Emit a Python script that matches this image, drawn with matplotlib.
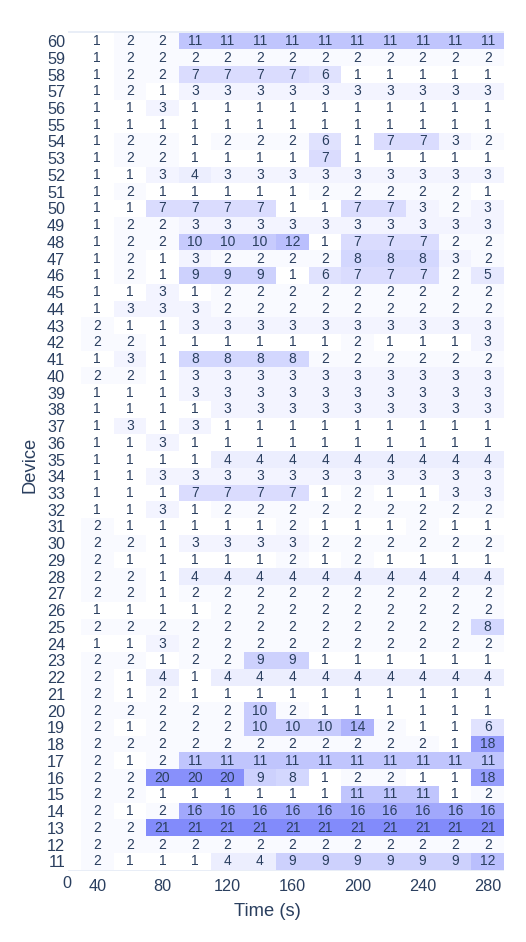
import numpy as np
import matplotlib.pyplot as plt
from matplotlib.colors import LinearSegmentedColormap

plt.rcParams['font.family'] = ['Liberation Sans', 'DejaVu Sans']

# time steps (s) and device ids
times = [40, 60, 80, 100, 120, 140, 160, 180, 200, 220, 240, 260, 280]
devices = list(range(60, 10, -1))

# counts per device (rows top to bottom: 60 .. 11)
counts = [
    [1, 2, 2, 11, 11, 11, 11, 11, 11, 11, 11, 11, 11],
    [1, 2, 2, 2, 2, 2, 2, 2, 2, 2, 2, 2, 2],
    [1, 2, 2, 7, 7, 7, 7, 6, 1, 1, 1, 1, 1],
    [1, 2, 1, 3, 3, 3, 3, 3, 3, 3, 3, 3, 3],
    [1, 1, 3, 1, 1, 1, 1, 1, 1, 1, 1, 1, 1],
    [1, 1, 1, 1, 1, 1, 1, 1, 1, 1, 1, 1, 1],
    [1, 2, 2, 1, 2, 2, 2, 6, 1, 7, 7, 3, 2],
    [1, 2, 2, 1, 1, 1, 1, 7, 1, 1, 1, 1, 1],
    [1, 1, 3, 4, 3, 3, 3, 3, 3, 3, 3, 3, 3],
    [1, 2, 1, 1, 1, 1, 1, 2, 2, 2, 2, 2, 1],
    [1, 1, 7, 7, 7, 7, 1, 1, 7, 7, 3, 2, 3],
    [1, 2, 2, 3, 3, 3, 3, 3, 3, 3, 3, 3, 3],
    [1, 2, 2, 10, 10, 10, 12, 1, 7, 7, 7, 2, 2],
    [1, 2, 1, 3, 2, 2, 2, 2, 8, 8, 8, 3, 2],
    [1, 2, 1, 9, 9, 9, 1, 6, 7, 7, 7, 2, 5],
    [1, 1, 3, 1, 2, 2, 2, 2, 2, 2, 2, 2, 2],
    [1, 3, 3, 3, 2, 2, 2, 2, 2, 2, 2, 2, 2],
    [2, 1, 1, 3, 3, 3, 3, 3, 3, 3, 3, 3, 3],
    [2, 2, 1, 1, 1, 1, 1, 1, 2, 1, 1, 1, 3],
    [1, 3, 1, 8, 8, 8, 8, 2, 2, 2, 2, 2, 2],
    [2, 2, 1, 3, 3, 3, 3, 3, 3, 3, 3, 3, 3],
    [1, 1, 1, 3, 3, 3, 3, 3, 3, 3, 3, 3, 3],
    [1, 1, 1, 1, 3, 3, 3, 3, 3, 3, 3, 3, 3],
    [1, 3, 1, 3, 1, 1, 1, 1, 1, 1, 1, 1, 1],
    [1, 1, 3, 1, 1, 1, 1, 1, 1, 1, 1, 1, 1],
    [1, 1, 1, 1, 4, 4, 4, 4, 4, 4, 4, 4, 4],
    [1, 1, 3, 3, 3, 3, 3, 3, 3, 3, 3, 3, 3],
    [1, 1, 1, 7, 7, 7, 7, 1, 2, 1, 1, 3, 3],
    [1, 1, 3, 1, 2, 2, 2, 2, 2, 2, 2, 2, 2],
    [2, 1, 1, 1, 1, 1, 2, 1, 1, 1, 2, 1, 1],
    [2, 2, 1, 3, 3, 3, 3, 2, 2, 2, 2, 2, 2],
    [2, 1, 1, 1, 1, 1, 2, 1, 2, 1, 1, 1, 1],
    [2, 2, 1, 4, 4, 4, 4, 4, 4, 4, 4, 4, 4],
    [2, 2, 1, 2, 2, 2, 2, 2, 2, 2, 2, 2, 2],
    [1, 1, 1, 1, 2, 2, 2, 2, 2, 2, 2, 2, 2],
    [2, 2, 2, 2, 2, 2, 2, 2, 2, 2, 2, 2, 8],
    [1, 1, 3, 2, 2, 2, 2, 2, 2, 2, 2, 2, 2],
    [2, 2, 1, 2, 2, 9, 9, 1, 1, 1, 1, 1, 1],
    [2, 1, 4, 1, 4, 4, 4, 4, 4, 4, 4, 4, 4],
    [2, 1, 2, 1, 1, 1, 1, 1, 1, 1, 1, 1, 1],
    [2, 2, 2, 2, 2, 10, 2, 1, 1, 1, 1, 1, 1],
    [2, 1, 2, 2, 2, 10, 10, 10, 14, 2, 1, 1, 6],
    [2, 2, 2, 2, 2, 2, 2, 2, 2, 2, 2, 1, 18],
    [2, 1, 2, 11, 11, 11, 11, 11, 11, 11, 11, 11, 11],
    [2, 2, 20, 20, 20, 9, 8, 1, 2, 2, 1, 1, 18],
    [2, 2, 1, 1, 1, 1, 1, 1, 11, 11, 11, 1, 2],
    [2, 1, 2, 16, 16, 16, 16, 16, 16, 16, 16, 16, 16],
    [2, 2, 21, 21, 21, 21, 21, 21, 21, 21, 21, 21, 21],
    [2, 2, 2, 2, 2, 2, 2, 2, 2, 2, 2, 2, 2],
    [2, 1, 1, 1, 4, 4, 9, 9, 9, 9, 9, 9, 12],
]

txt_col = '#2a3f5f'
cmap = LinearSegmentedColormap.from_list('wb', ['#ffffff', '#828bfb'])

z = np.array(counts)
t = np.array(times)
d = np.array(devices)
xedges = np.concatenate([t - 10, [t[-1] + 10]])
yedges = np.concatenate([d + 0.5, [d[-1] - 0.5]])

fig = plt.figure(figsize=(5.26, 9.42), dpi=100)
ax = fig.add_axes([68 / 526, 1 - 871 / 942, 436 / 526, 840 / 942])
ax.set_facecolor('#e9eef7')

ax.pcolormesh(xedges, yedges, z, cmap=cmap, vmin=1, vmax=21, shading='flat')
ax.fill_between([21, 30], d[-1] - 0.5, d[0] + 0.5, color='white', lw=0)

for i, dev in enumerate(devices):
    for j, tm in enumerate(times):
        ax.text(tm, dev, str(counts[i][j]), ha='center', va='center',
                fontsize=10, color=txt_col)

ax.set_xlim(22, 290)
ax.set_ylim(10.42, 60.6)
ax.set_xticks(times[::2])
ax.set_yticks(devices)
ax.tick_params(length=0, labelsize=11.7, labelcolor=txt_col)
ax.tick_params(axis='x', pad=6)
ax.tick_params(axis='y', pad=2)
for s in ax.spines.values():
    s.set_visible(False)

# stray "0" label left of the first tick
ax.text(21.2, -(884 - 871) / 840, '0', transform=ax.get_xaxis_transform(),
        ha='center', va='center', fontsize=11.7, color=txt_col, clip_on=False)

ax.set_xlabel('Time (s)', fontsize=13.2, color=txt_col)
ax.xaxis.set_label_coords((267 - 68) / 436, -(911 - 871) / 840)
ax.xaxis.label.set_va('center')
ax.set_ylabel('Device', fontsize=13.2, color=txt_col)
ax.yaxis.set_label_coords((30 - 68) / 436, (871 - 465) / 840)
ax.yaxis.label.set_va('center')

fig.savefig('out.png', dpi=100)
